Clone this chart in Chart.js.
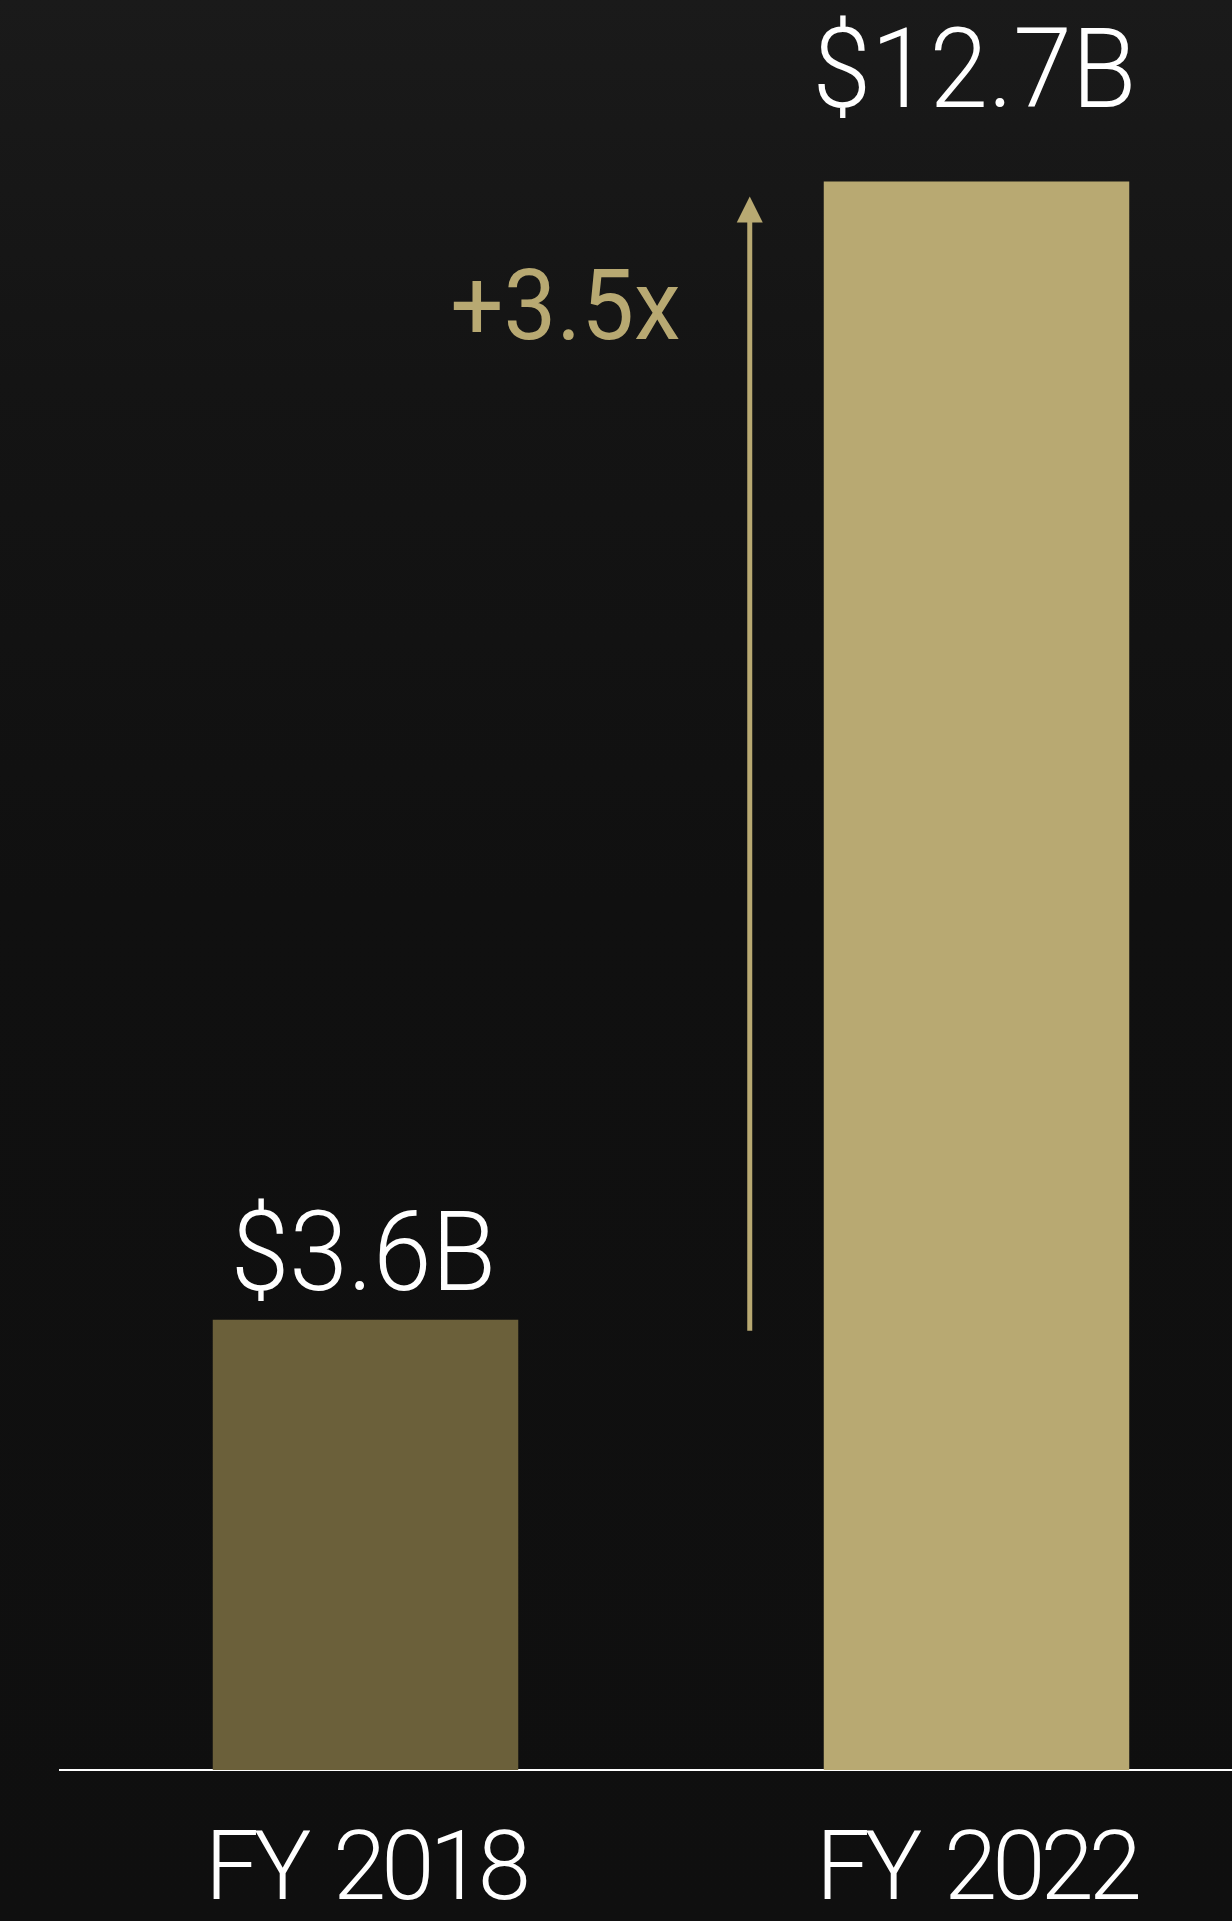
<!DOCTYPE html>
<html>
<head>
<meta charset="utf-8">
<script src="https://cdn.jsdelivr.net/npm/chart.js@4/dist/chart.umd.min.js"></script>
<style>
  html, body { margin: 0; padding: 0; width: 1232px; height: 1921px; overflow: hidden; }
  body { background: linear-gradient(#1a1a1a 0px, #141414 380px, #101010 900px, #0f0f0f 100%); }
  #wrap { position: absolute; left: 0; top: 0; width: 1282px; height: 1921px; }
</style>
</head>
<body>
<div id="wrap"><canvas id="chart"></canvas></div>
<script>
// revenue, $B
var years = ['FY 2018', 'FY 2022'];
var revenue = [3.6, 12.7];
var barColors = ['#6b603a', '#b8a972'];
var gold = '#b8a972';
var yMax = 14;

// distance from bar top to the value text baseline
var labelGap = [30, 75];

var growthLabels = {
    id: 'growthLabels',
    beforeDraw: function(chart) {
        // tighter letters, normal word gap for the axis labels
        chart.ctx.letterSpacing = '-5px';
        chart.ctx.wordSpacing = '8px';
    },
    afterDatasetsDraw: function(chart) {
        var ctx = chart.ctx;
        var meta = chart.getDatasetMeta(0);
        var yScale = chart.scales.y;

        ctx.save();
        ctx.letterSpacing = '0px';
        ctx.wordSpacing = '0px';
        ctx.fillStyle = '#ffffff';
        ctx.textAlign = 'center';
        ctx.textBaseline = 'alphabetic';
        ctx.font = '300 111px Roboto';
        meta.data.forEach(function(bar, i) {
            ctx.save();
            ctx.translate(bar.x - 2, bar.y - labelGap[i]);
            ctx.scale(0.95, 1);
            ctx.fillText('$' + revenue[i].toFixed(1) + 'B', 0, 0);
            ctx.restore();
        });

        // arrow from the old level up to the new one
        var last = meta.data[1];
        var ax = last.x - last.width / 2 - 74;
        var yTop = yScale.getPixelForValue(revenue[1]) + 15;
        var yBot = yScale.getPixelForValue(revenue[0]) + 11;
        ctx.strokeStyle = gold;
        ctx.fillStyle = gold;
        ctx.lineWidth = 5;
        ctx.beginPath();
        ctx.moveTo(ax, yBot);
        ctx.lineTo(ax, yTop + 24);
        ctx.stroke();
        ctx.beginPath();
        ctx.moveTo(ax, yTop);
        ctx.lineTo(ax - 13, yTop + 26);
        ctx.lineTo(ax + 13, yTop + 26);
        ctx.closePath();
        ctx.fill();

        ctx.font = '400 98px Roboto';
        ctx.textAlign = 'right';
        var mult = (revenue[1] / revenue[0]).toFixed(1);
        ctx.save();
        ctx.translate(ax - 69, yTop + 142);
        ctx.scale(0.96, 1);
        ctx.fillText('+' + mult + 'x', 0, 0);
        ctx.restore();
        ctx.restore();
    }
};

new Chart(document.getElementById('chart').getContext('2d'), {
    type: 'bar',
    data: {
        labels: years,
        datasets: [{
            data: revenue,
            backgroundColor: barColors,
            borderWidth: 0,
            barPercentage: 0.5,
            categoryPercentage: 1
        }]
    },
    options: {
        responsive: true,
        maintainAspectRatio: false,
        animation: false,
        layout: { padding: { left: 60, top: 19, right: 0, bottom: 0 } },
        plugins: { legend: { display: false }, tooltip: { enabled: false } },
        scales: {
            x: {
                grid: { display: false },
                border: { display: true, color: '#ffffff', width: 2 },
                ticks: {
                    color: '#ffffff',
                    padding: 49,
                    font: { family: 'Roboto', weight: '300', size: 96, lineHeight: 1 }
                },
                afterFit: function(axis) { axis.height = 151; }
            },
            y: {
                display: false,
                min: 0,
                max: yMax
            }
        }
    },
    plugins: [growthLabels]
});
</script>
</body>
</html>
